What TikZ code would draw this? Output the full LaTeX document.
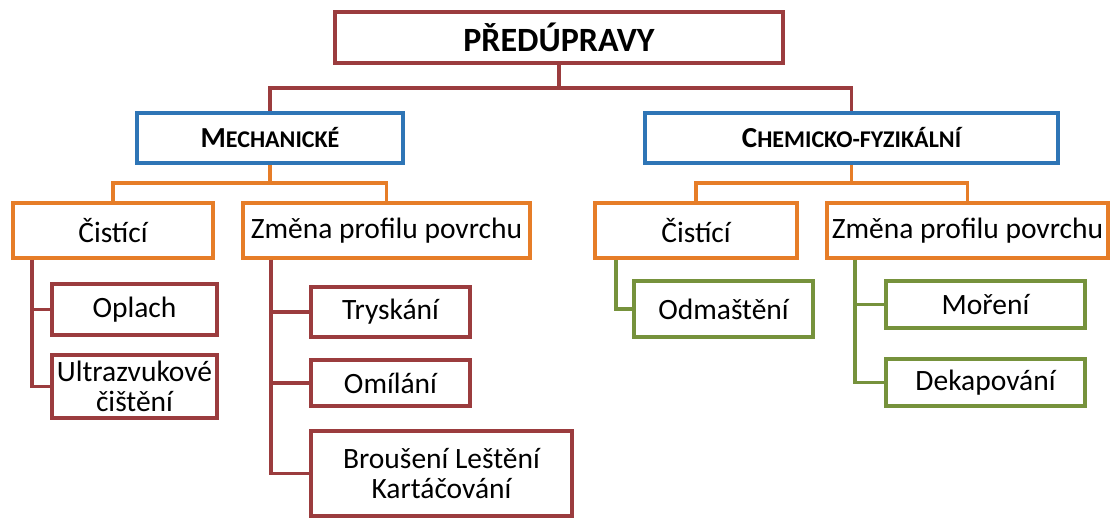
\documentclass[tikz,border=0pt]{standalone}
\usepackage{fontspec}
\setmainfont{Carlito}
\usetikzlibrary{positioning,calc}

\definecolor{treered}{RGB}{155,60,62}
\definecolor{treeblue}{RGB}{46,117,182}
\definecolor{treeorange}{RGB}{230,125,40}
\definecolor{treegreen}{RGB}{118,146,60}

\newcommand{\fakesc}[2]{#1{\fontsize{24}{26}\selectfont #2}}

\begin{document}
\begin{tikzpicture}[x=1pt,y=-1pt,on grid,
    box/.style={draw,line width=3.8pt,fill=white,inner sep=0pt,align=center,
      font=\fontsize{29.5}{30}\selectfont},
    redbox/.style={box,draw=treered},
    bluebox/.style={box,draw=treeblue,font=\bfseries\fontsize{29}{30}\selectfont},
    orangebox/.style={box,draw=treeorange},
    greenbox/.style={box,draw=treegreen},
    fork/.style={to path={|- ($(\tikztostart)!.5!(\tikztotarget)$) -| (\tikztotarget)}},
    branch/.style={to path={|- (\tikztotarget)}}]
   \useasboundingbox (0,0) rectangle (1117,518);

   \node[redbox,minimum width=448,minimum height=51,font=\bfseries\fontsize{34}{36}\selectfont] (pred) at (559,37.5) {PŘEDÚPRAVY};
   \node[bluebox,minimum width=266,minimum height=50] (mech) [below left=100.5pt and 289pt of pred] {\fakesc{M}{ECHANICKÉ}};
   \node[bluebox,minimum width=413,minimum height=50] (chem) [below right=100.5pt and 292.5pt of pred] {\fakesc{C}{HEMICKO-FYZIKÁLNÍ}};

   % mechanicke
   \node[orangebox,minimum width=200,minimum height=55] (cistL) [below left=92.5pt and 157pt of mech] {Čistící};
   \node[orangebox,minimum width=287,minimum height=55] (zmenaL) [below right=92.5pt and 116.5pt of mech] {Změna profilu povrchu};
   \node[redbox,minimum width=165,minimum height=51] (oplach) [below right=79pt and 21.5pt of cistL] {Oplach};
   \node[redbox,minimum width=165,minimum height=63] (ultra) [below=77pt of oplach] {Ultrazvukové\\čištění};
   \node[redbox,minimum width=159,minimum height=50] (trysk) [below right=81.5pt and 4pt of zmenaL] {Tryskání};
   \node[redbox,minimum width=159,minimum height=46] (omil) [below=71pt of trysk] {Omílání};
   \node[redbox,minimum width=261,minimum height=85] (brous) [below right=90.5pt and 51pt of omil] {Broušení Leštění\\Kartáčování};

   % chemicko-fyzikalni
   \node[orangebox,minimum width=202,minimum height=55] (cistR) [below left=92.5pt and 155.5pt of chem] {Čistící};
   \node[orangebox,minimum width=281,minimum height=55] (zmenaR) [below right=92.5pt and 116pt of chem] {Změna profilu povrchu};
   \node[greenbox,minimum width=179,minimum height=56] (odmast) [below right=78.5pt and 27.5pt of cistR] {Odmaštění};
   \node[greenbox,minimum width=199,minimum height=47] (moreni) [below right=74pt and 18pt of zmenaR] {Moření};
   \node[greenbox,minimum width=199,minimum height=47] (dekap) [below=78pt of moreni] {Dekapování};

   \coordinate (cistL-s) at ([xshift=21pt]cistL.south west);
   \coordinate (zmenaL-s) at ([xshift=30pt]zmenaL.south west);
   \coordinate (cistR-s) at ([xshift=23pt]cistR.south west);
   \coordinate (zmenaR-s) at ([xshift=30pt]zmenaR.south west);

   \path[draw=treered,line width=3.8pt]
    (pred.south) edge[fork] (mech.north)
                 edge[fork] (chem.north)
    (cistL-s) edge[branch] (oplach.west)
              edge[branch] (ultra.west)
    (zmenaL-s) edge[branch] (trysk.west)
               edge[branch] (omil.west)
               edge[branch] (brous.west);
   \path[draw=treeorange,line width=3.8pt]
    (mech.south) edge[fork] (cistL.north)
                 edge[fork] (zmenaL.north)
    (chem.south) edge[fork] (cistR.north)
                 edge[fork] (zmenaR.north);
   \path[draw=treegreen,line width=3.8pt]
    (cistR-s) edge[branch] (odmast.west)
    (zmenaR-s) edge[branch] (moreni.west)
               edge[branch] (dekap.west);
\end{tikzpicture}
\end{document}
